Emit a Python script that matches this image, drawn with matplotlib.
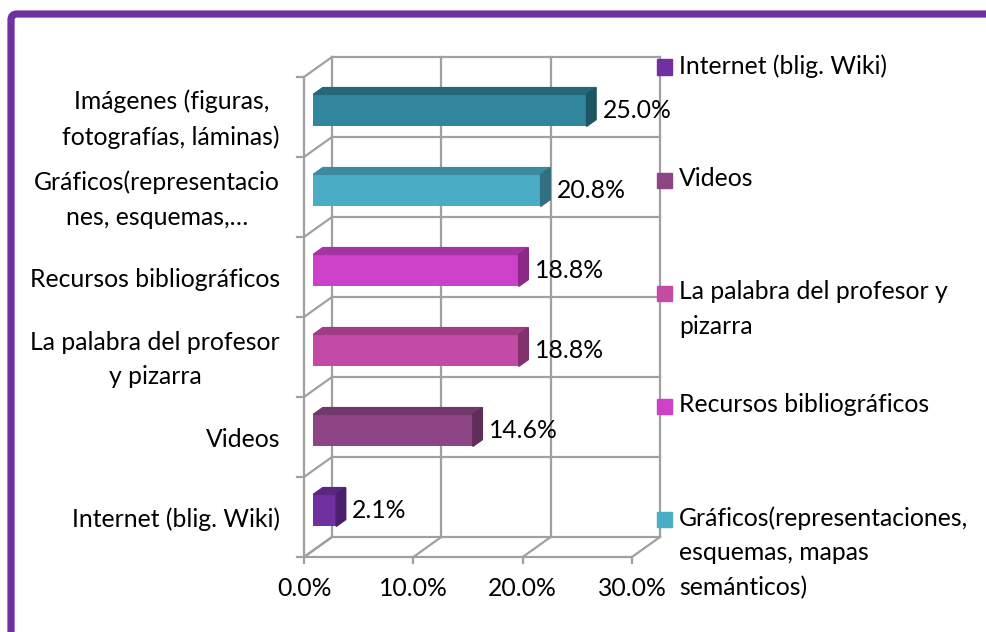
import matplotlib.pyplot as plt
from matplotlib.patches import Polygon, Rectangle, FancyBboxPatch
from matplotlib.transforms import IdentityTransform

plt.rcParams['font.family'] = ['Lato', 'DejaVu Sans']

categories = ["Internet (blig. Wiki)", "Videos", "La palabra del profesor\ny pizarra",
              "Recursos bibliográficos", "Gráficos(representacio\nnes, esquemas,…",
              "Imágenes (figuras,\nfotografías, láminas)"]
values = [2.1, 14.6, 18.8, 18.8, 20.8, 25.0]
front_colors = ["#7030A0", "#8E4585", "#C34BA5", "#CD40C8", "#4BACC6", "#31859C"]
top_colors = ["#5A2682", "#72376B", "#9E3C86", "#A633A2", "#3C8AA0", "#25687A"]
side_colors = ["#4A1F6C", "#5E2D58", "#82316E", "#8A2A86", "#316F81", "#1E5563"]
legend_labels = ["Internet (blig. Wiki)", "Videos", "La palabra del profesor y\npizarra",
                 "Recursos bibliográficos", "Gráficos(representaciones,\nesquemas, mapas\nsemánticos)"]
xticks = [0, 10, 20, 30]

FS = 17.8
LS = 1.62
W, H = 987, 632
fig = plt.figure(figsize=(W / 100, H / 100), dpi=100)
ax = fig.add_axes([304 / W, 75 / H, 356 / W, 500 / H])

DX, DY = 2.56, 0.25          # depth offset of the back wall (data units)
XMAX = 30
n = len(categories)
ax.set_xlim(0, XMAX + DX)
ax.set_ylim(0, n + DY)
ax.axis('off')

grid = dict(color="#A0A0A0", lw=1.6, clip_on=False, zorder=1)
# back wall
for t in xticks:
    ax.plot([t + DX, t + DX], [DY, n + DY], **grid)
for k in range(n + 1):
    ax.plot([DX, XMAX + DX], [k + DY, k + DY], **grid)
# left wall
ax.plot([0, 0], [0, n], **grid)
for k in range(n + 1):
    ax.plot([0, DX], [k, k + DY], **grid)
    ax.plot([-0.65, 0], [k, k], **grid)
# floor
ax.plot([0, XMAX], [0, 0], **grid)
for t in xticks:
    ax.plot([t, t + DX], [0, DY], **grid)
    ax.plot([t, t], [0, -0.08], **grid)
    ax.text(t, -0.39, f"{t:.1f}%", ha='center', va='center', fontsize=FS)

# bars
d0, d1 = 0.33, 0.67
bh = 0.4
for i, (v, fc, tc, sc) in enumerate(zip(values, front_colors, top_colors, side_colors)):
    x0 = d0 * DX
    yc = i + 0.5 + d0 * DY
    yb, yt = yc - bh / 2, yc + bh / 2
    ddx, ddy = (d1 - d0) * DX, (d1 - d0) * DY
    ax.barh(yc, v, left=x0, height=bh, color=fc, zorder=3, clip_on=False)
    ax.add_patch(Polygon([(x0, yt), (x0 + v, yt), (x0 + v + ddx, yt + ddy), (x0 + ddx, yt + ddy)],
                         closed=True, color=tc, zorder=3, clip_on=False))
    ax.add_patch(Polygon([(x0 + v, yb), (x0 + v, yt), (x0 + v + ddx, yt + ddy), (x0 + v + ddx, yb + ddy)],
                         closed=True, color=sc, zorder=3, clip_on=False))
    ax.text(x0 + v + ddx + 0.6, yc, f"{v:.1f}%", ha='left', va='center', fontsize=FS, zorder=4)
    ax.text(-2.2, i + 0.5 - 0.03, categories[i], ha='right', va='center', multialignment='center',
            fontsize=FS, linespacing=LS)

# legend
for j, (lab, c) in enumerate(zip(legend_labels, front_colors[:5])):
    y = 67 + 113 * j
    fig.add_artist(Rectangle((657 / W, 1 - (y + 7.5) / H), 15 / W, 15 / H,
                             transform=fig.transFigure, color=c))
    fig.text(679 / W, 1 - (y - 13) / H, lab, ha='left', va='top', fontsize=FS, linespacing=LS)

# purple frame
fig.add_artist(FancyBboxPatch((11, -30), 1010, H - 14 + 30, boxstyle="round,pad=0,rounding_size=6",
                              transform=IdentityTransform(), fill=False, ec="#7030A0", lw=5.2))

fig.savefig("out.png", dpi=100)
